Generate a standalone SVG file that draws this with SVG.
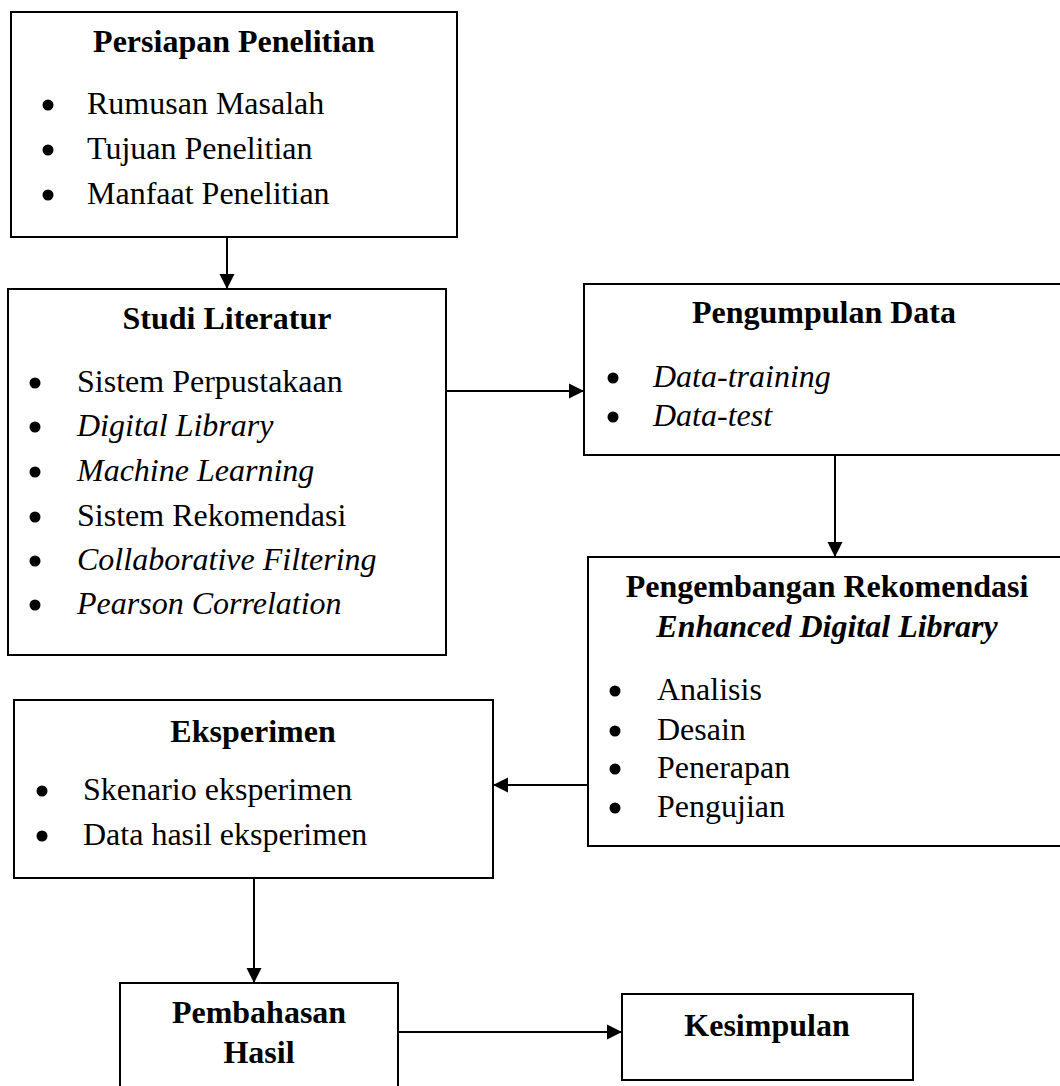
<svg xmlns="http://www.w3.org/2000/svg" width="1060" height="1086" viewBox="0 0 1060 1086">
<style>
.box{fill:#fff;stroke:#000;stroke-width:2}
.t{font-family:"Liberation Serif","Times New Roman",serif;font-size:32px;fill:#000}
.h{font-weight:bold;text-anchor:middle}
.i{font-style:italic}
.b{fill:#000}
.c{stroke:#000;stroke-width:2;fill:none;marker-end:url(#ah)}
</style>
<defs>
<marker id="ah" markerUnits="userSpaceOnUse" markerWidth="16" markerHeight="16" viewBox="0 0 16 16" refX="15" refY="8" orient="auto">
<path d="M0,0.5 L15,8 L0,15.5 z" fill="#000"/>
</marker>
</defs>
<rect width="1060" height="1086" fill="#fff"/>
<g id="connectors">
<line class="c" x1="227" y1="238" x2="227" y2="289"/>
<line class="c" x1="446" y1="391" x2="584" y2="391"/>
<line class="c" x1="835" y1="455" x2="835" y2="557"/>
<line class="c" x1="588" y1="785" x2="493" y2="785"/>
<line class="c" x1="254" y1="878" x2="254" y2="983"/>
<line class="c" x1="398" y1="1032" x2="622" y2="1032"/>
</g>
<g id="persiapan">
<rect class="box" x="11" y="12" width="446" height="225"/>
<text class="t h" x="234" y="52">Persiapan Penelitian</text>
<circle class="b" cx="48" cy="105" r="5.5"/><text class="t" x="87" y="114">Rumusan Masalah</text>
<circle class="b" cx="48" cy="150" r="5.5"/><text class="t" x="87" y="159">Tujuan Penelitian</text>
<circle class="b" cx="48" cy="195" r="5.5"/><text class="t" x="87" y="204">Manfaat Penelitian</text>
</g>
<g id="studi">
<rect class="box" x="8" y="289" width="438" height="366"/>
<text class="t h" x="227" y="329">Studi Literatur</text>
<circle class="b" cx="35" cy="383" r="5.5"/><text class="t" x="77" y="392">Sistem Perpustakaan</text>
<circle class="b" cx="35" cy="427" r="5.5"/><text class="t i" x="77" y="436">Digital Library</text>
<circle class="b" cx="35" cy="472" r="5.5"/><text class="t i" x="77" y="481">Machine Learning</text>
<circle class="b" cx="35" cy="517" r="5.5"/><text class="t" x="77" y="526">Sistem Rekomendasi</text>
<circle class="b" cx="35" cy="561" r="5.5"/><text class="t i" x="77" y="570">Collaborative Filtering</text>
<circle class="b" cx="35" cy="605" r="5.5"/><text class="t i" x="77" y="614">Pearson Correlation</text>
</g>
<g id="pengumpulan">
<rect class="box" x="584" y="284" width="500" height="171"/>
<text class="t h" x="824" y="323">Pengumpulan Data</text>
<circle class="b" cx="613" cy="378" r="5.5"/><text class="t i" x="653" y="387">Data-training</text>
<circle class="b" cx="613" cy="417" r="5.5"/><text class="t i" x="653" y="426">Data-test</text>
</g>
<g id="pengembangan">
<rect class="box" x="588" y="557" width="500" height="289"/>
<text class="t h" x="827" y="597">Pengembangan Rekomendasi</text>
<text class="t h i" x="827" y="637">Enhanced Digital Library</text>
<circle class="b" cx="615" cy="691" r="5.5"/><text class="t" x="657" y="700">Analisis</text>
<circle class="b" cx="615" cy="731" r="5.5"/><text class="t" x="657" y="740">Desain</text>
<circle class="b" cx="615" cy="769" r="5.5"/><text class="t" x="657" y="778">Penerapan</text>
<circle class="b" cx="615" cy="808" r="5.5"/><text class="t" x="657" y="817">Pengujian</text>
</g>
<g id="eksperimen">
<rect class="box" x="14" y="700" width="479" height="178"/>
<text class="t h" x="253" y="742">Eksperimen</text>
<circle class="b" cx="42" cy="791" r="5.5"/><text class="t" x="83" y="800">Skenario eksperimen</text>
<circle class="b" cx="42" cy="836" r="5.5"/><text class="t" x="83" y="845">Data hasil eksperimen</text>
</g>
<g id="pembahasan">
<rect class="box" x="120" y="983" width="278" height="110"/>
<text class="t h" x="259" y="1023">Pembahasan</text>
<text class="t h" x="259" y="1063">Hasil</text>
</g>
<g id="kesimpulan">
<rect class="box" x="622" y="994" width="291" height="86"/>
<text class="t h" x="767" y="1036">Kesimpulan</text>
</g>
</svg>
